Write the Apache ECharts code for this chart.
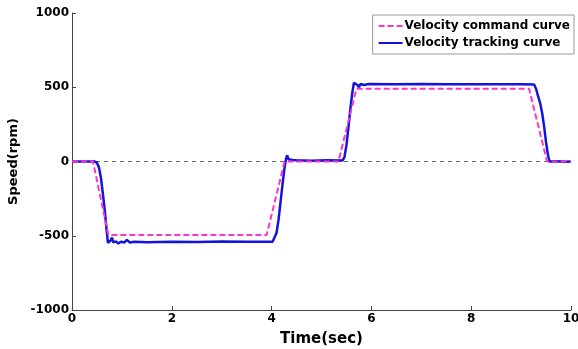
<!DOCTYPE html>
<html>
<head>
<meta charset="utf-8">
<script src="https://cdn.jsdelivr.net/npm/echarts@6/dist/echarts.min.js"></script>
<style>
  html, body { margin: 0; padding: 0; background: #fff; }
  #chart { width: 578px; height: 349px; }
</style>
</head>
<body>
<div id="chart"></div>
<script>
// command curve (trapezoid profile)
var cmdTime  = [0, 0.42, 0.73, 3.9, 4.26, 5.34, 5.7, 9.16, 9.52, 10];
var cmdSpeed = [0, 0, -495, -495, 0, 0, 490, 490, 0, 0];

var trkTime = [
  0, 0.45, 0.5, 0.54, 0.58, 0.62, 0.66, 0.69, 0.72, 0.75, 0.78, 0.8, 0.83, 0.88, 0.93, 0.98,
  1.05, 1.1, 1.13, 1.16, 1.25, 1.5, 2, 2.5, 3, 3.5, 4.02, 4.06, 4.1, 4.14, 4.18, 4.22,
  4.26, 4.29, 4.31, 4.34, 4.38, 4.42, 4.5, 4.8, 5.1, 5.42, 5.46, 5.5, 5.54, 5.58, 5.62,
  5.65, 5.68, 5.72, 5.75, 5.78, 5.85, 5.95, 6.5, 7, 7.5, 8, 8.5, 9, 9.26, 9.3, 9.34,
  9.38, 9.42, 9.46, 9.5, 9.54, 9.57, 9.7, 9.9, 10
];
var trkSpeed = [
  0, 0, -8, -40, -110, -220, -340, -450, -548, -540, -530, -512, -545, -538, -552, -540,
  -545, -528, -515, -545, -540, -543, -540, -542, -539, -541, -540, -530, -480, -390, -270, -150,
  -40, 20, 42, 15, 28, 10, 8, 5, 8, 6, 30, 110, 230, 360, 470,
  530, 522, 515, 500, 522, 515, 522, 520, 522, 520, 521, 520, 520, 518, 490, 440,
  395, 330, 240, 130, 40, 0, 2, -2, 0
];

// dashed reference line at zero speed
var zeroTime  = [0, 10];
var zeroSpeed = [0, 0];

function pairs(xs, ys) {
  var out = [];
  for (var i = 0; i < xs.length; i++) out.push([xs[i], ys[i]]);
  return out;
}

var font = 'DejaVu Sans';

var option = {
  animation: false,
  backgroundColor: '#fff',
  grid: { left: 72, right: 7, top: 13, bottom: 39, outerBoundsMode: 'none', containLabel: false },
  legend: {
    orient: 'vertical',
    right: 4,
    top: 15,
    padding: [5, 4, 5, 5],
    itemGap: 5,
    itemWidth: 24,
    itemHeight: 14,
    borderColor: '#999',
    borderWidth: 1,
    backgroundColor: '#fff',
    itemStyle: { opacity: 0 },
    textStyle: { fontFamily: font, fontWeight: 'bold', fontSize: 12, color: '#000', padding: [0, 0, 0, -3] },
    data: ['Velocity command curve', 'Velocity tracking curve']
  },
  xAxis: {
    type: 'value',
    min: 0,
    max: 10,
    interval: 2,
    name: 'Time(sec)',
    nameLocation: 'middle',
    nameGap: 22,
    nameTextStyle: { fontFamily: font, fontWeight: 'bold', fontSize: 15, color: '#000', verticalAlign: 'top' },
    axisLine: { onZero: false, lineStyle: { color: '#444', width: 1 } },
    axisTick: { inside: true, length: 4, lineStyle: { color: '#444' } },
    axisLabel: { fontFamily: font, fontWeight: 'bold', fontSize: 12, color: '#000', margin: 3 },
    splitLine: { show: false }
  },
  yAxis: {
    type: 'value',
    min: -1000,
    max: 1000,
    interval: 500,
    name: 'Speed(rpm)',
    nameLocation: 'middle',
    nameGap: 50,
    nameTextStyle: { fontFamily: font, fontWeight: 'bold', fontSize: 13, color: '#000' },
    axisLine: { show: true, onZero: false, lineStyle: { color: '#444', width: 1 } },
    axisTick: { show: true, inside: true, length: 4, lineStyle: { color: '#444' } },
    axisLabel: {
      fontFamily: font, fontWeight: 'bold', fontSize: 12, color: '#000', margin: 3,
      formatter: function (v) { return String(v); }
    },
    splitLine: { show: false }
  },
  series: [
    {
      name: 'zero',
      type: 'line',
      z: 1,
      silent: true,
      showSymbol: false,
      symbol: 'none',
      lineStyle: { type: [4, 4], color: '#666', width: 1 },
      data: pairs(zeroTime, zeroSpeed)
    },
    {
      name: 'Velocity command curve',
      type: 'line',
      z: 3,
      showSymbol: false,
      symbol: 'none',
      color: '#ff33cc',
      lineStyle: { color: '#ff33cc', width: 2, type: [6, 3] },
      data: pairs(cmdTime, cmdSpeed)
    },
    {
      name: 'Velocity tracking curve',
      type: 'line',
      z: 2,
      showSymbol: false,
      symbol: 'none',
      color: '#1414d8',
      lineStyle: { color: '#1414d8', width: 2.5 },
      data: pairs(trkTime, trkSpeed)
    }
  ]
};

echarts.init(document.getElementById('chart')).setOption(option);
</script>
</body>
</html>
